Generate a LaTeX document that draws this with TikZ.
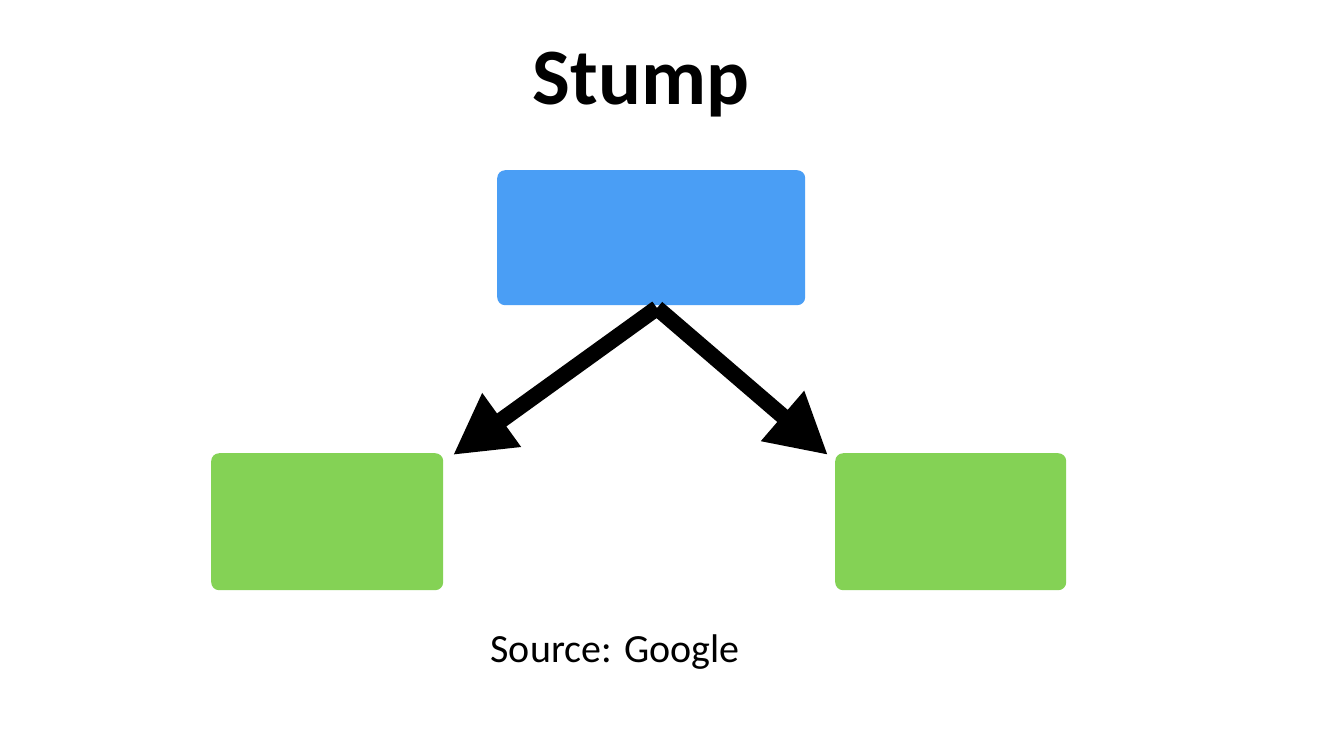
\documentclass[tikz,border=0pt]{standalone}
\usepackage{fontspec}
\setmainfont{Carlito}
\usetikzlibrary{arrows.meta}
\definecolor{bluebox}{HTML}{4A9EF5}
\definecolor{greenbox}{HTML}{84D255}
\begin{document}
\begin{tikzpicture}[x=1pt,y=-1pt,
  box/.style={rounded corners=8pt,inner sep=0pt,anchor=north west},
  arr/.style={line width=16pt,-{Triangle[length=60pt,width=62pt]}}]
\useasboundingbox (0,0) rectangle (1328,732);
\fill[white] (0,0) rectangle (1328,732);
\node[font=\fontsize{80}{90}\selectfont\bfseries] (title) at (641,85) {Stump};
\node[box,fill=bluebox,minimum width=308pt,minimum height=135pt] (root) at (497,170) {};
\node[box,fill=greenbox,minimum width=232pt,minimum height=137pt] (l) at (211,453) {};
\node[box,fill=greenbox,minimum width=231pt,minimum height=137pt] (r) at (835,453) {};
\coordinate (s) at (657,308);
\coordinate (lt) at (453,455);
\coordinate (rt) at (828,455);
\draw[arr] (s) -- (lt);
\draw[arr] (s) -- (rt);
\node[font=\fontsize{40}{48}\selectfont] (src) at (615,652) {Source: Google};
\end{tikzpicture}
\end{document}
